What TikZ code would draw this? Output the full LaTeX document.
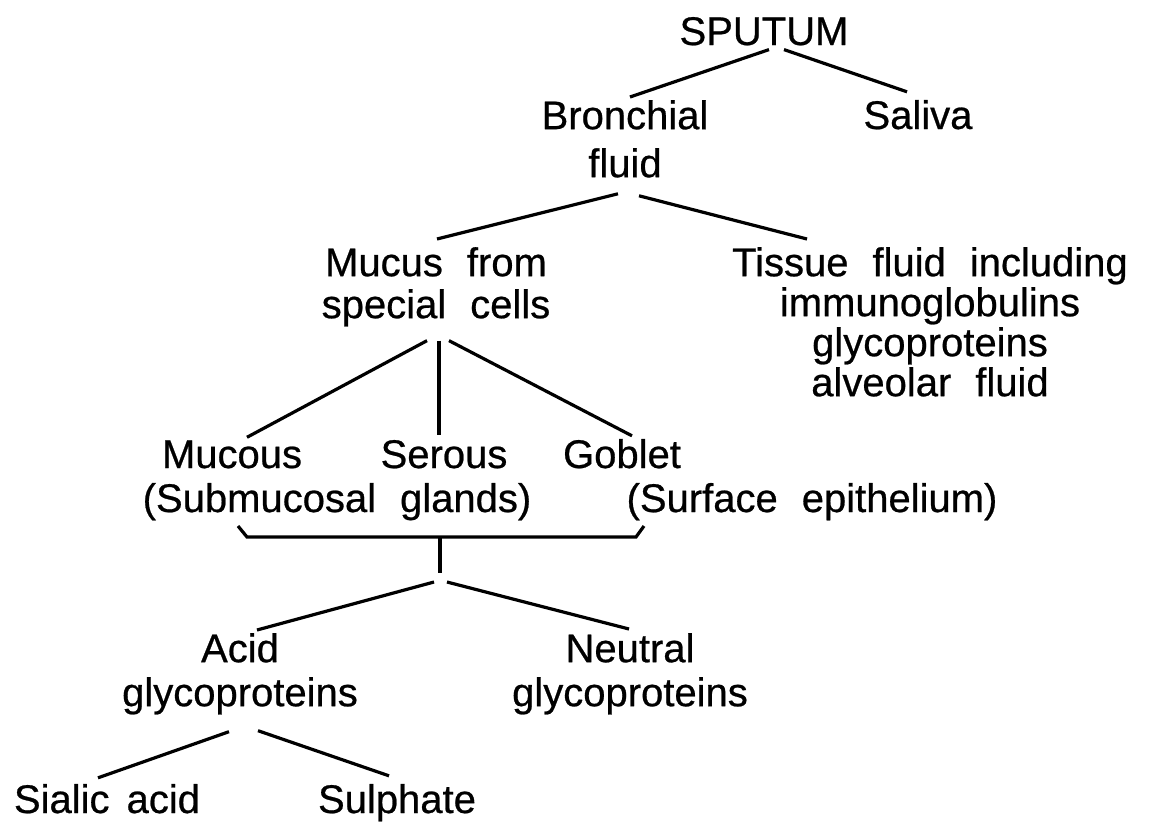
\documentclass[tikz,border=0pt]{standalone}
\usepackage{fontspec}
\setmainfont{Liberation Sans}[FakeBold=0.6]
\usetikzlibrary{calc}
\newcommand{\gap}{\hspace{0.6em}}
\tikzset{lbl/.style={inner sep=0pt,align=center,anchor=north,font=\fontsize{40}{42}\selectfont},
  word/.style={lbl,anchor=base},
  edge/.style={line width=3.2pt}}

\begin{document}
\begin{tikzpicture}[x=1pt,y=-1pt]
\useasboundingbox (0,0) rectangle (1160,823);
% text
\node[word] (sputum) at (764,45) {SPUTUM};
\node[lbl,font=\fontsize{40}{48}\selectfont] (bronch) at (625,100) {Bronchial\\fluid};
\node[word] (saliva) at (918,129) {Saliva};
\node[lbl] (mucus) at (436,247) {Mucus\gap from\\special\gap cells};
\node[lbl,font=\fontsize{40}{40}\selectfont] (tissue) at (930,247) {Tissue\gap fluid\gap including\\immunoglobulins\\glycoproteins\\alveolar\gap fluid};
\node[word] (mucous) at (232,468) {Mucous};
\node[word] (serous) at (444,468) {Serous};
\node[word] (goblet) at (622,468) {Goblet};
\node[word] (subm) at (337,512) {(Submucosal\gap glands)};
\node[word] (surf) at (812,512) {(Surface\gap epithelium)};
\node[lbl,font=\fontsize{40}{44}\selectfont] (acid) at (240,633) {Acid\\glycoproteins};
\node[lbl,font=\fontsize{40}{44}\selectfont] (neutral) at (630,633) {Neutral\\glycoproteins};
\node[word] (sialic) at (107,813) {Sialic\hspace{0.15em} acid};
\node[word] (sulph) at (397,813) {Sulphate};
% connectors
\draw[edge] ([xshift=5pt,yshift=-4pt]sputum.south) -- ([xshift=5pt,yshift=3pt]bronch.north);
\draw[edge] ([xshift=20pt,yshift=-4pt]sputum.south) -- ([xshift=-11pt,yshift=8pt]saliva.north);
\draw[edge] ([xshift=-7pt,yshift=-16pt]bronch.south) -- ([xshift=1pt,yshift=8pt]mucus.north);
\draw[edge] ([xshift=14pt,yshift=-18pt]bronch.south) -- ([xshift=-123pt,yshift=8pt]tissue.north);
\draw[edge] ([xshift=-9pt,yshift=-14pt]mucus.south) -- ([xshift=15pt,yshift=3pt]mucous.north);
\draw[edge] ([xshift=3pt,yshift=-14pt]mucus.south) -- ([xshift=-5pt,yshift=5pt]serous.north);
\draw[edge] ([xshift=13pt,yshift=-14pt]mucus.south) -- ([xshift=10pt,yshift=3pt]goblet.north);
% bracket under the glands
\coordinate (brL) at (238,526);
\coordinate (brR) at (644,526);
\coordinate (join) at (440,537);
\draw[edge] (brL) -- ++(9,11) -- ($(brR)+(-8,11)$) -- (brR);
\draw[edge] (join) -- ++(0,36) coordinate (fork);
\draw[edge] ($(fork)+(-6,9)$) -- ([xshift=17pt,yshift=3pt]acid.north);
\draw[edge] ($(fork)+(7,9)$) -- ([xshift=-1pt,yshift=4pt]neutral.north);
\draw[edge] ([xshift=-11pt,yshift=-17pt]acid.south) -- ([xshift=-9pt,yshift=6pt]sialic.north);
\draw[edge] ([xshift=18pt,yshift=-16pt]acid.south) -- ([xshift=-8pt,yshift=8pt]sulph.north);
\end{tikzpicture}
\end{document}
